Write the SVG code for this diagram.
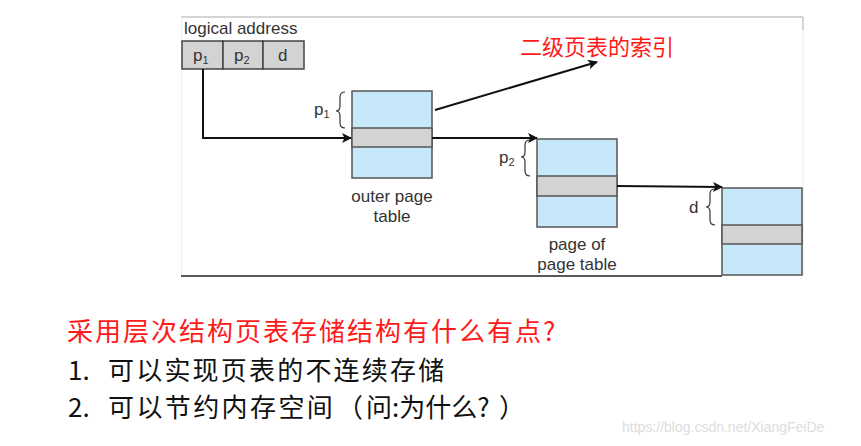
<svg xmlns="http://www.w3.org/2000/svg" width="861" height="446" viewBox="0 0 861 446">
<defs>
<style>
.lbl{font-family:"Liberation Sans",Arial,sans-serif;font-size:17px;fill:#333}
.sub{font-size:11px}
.tbl{fill:#c6e8f9;stroke:#555;stroke-width:1.5}
.band{fill:#d3d3d3;stroke:#555;stroke-width:1.5}
.conn{fill:none;stroke:#111;stroke-width:2}
.brace{fill:none;stroke:#333;stroke-width:1.2}
.cjk{font-family:"Noto Sans CJK SC","Noto Sans",sans-serif}
</style>
<marker id="ah2" viewBox="0 0 10 10" refX="9" refY="5" markerWidth="13" markerHeight="10" orient="auto" markerUnits="userSpaceOnUse">
<path d="M0,0 L10,5 L0,10 L2.5,5 z" fill="#111"/>
</marker>
</defs>
<rect width="861" height="446" fill="#fff"/>
<g id="frame">
<polyline points="181,17 803,17 803,30" fill="none" stroke="#aaa" stroke-width="1"/>
<line x1="803" y1="30" x2="803" y2="276" stroke="#eee" stroke-width="1"/>
<line x1="181.5" y1="17" x2="181.5" y2="276" stroke="#eee" stroke-width="1"/>
<line x1="181" y1="276" x2="722" y2="276" stroke="#222" stroke-width="1.5"/>
</g>
<g id="logical-address">
<text class="lbl" x="184" y="34">logical address</text>
<rect x="182" y="41" width="41" height="28" fill="#d3d3d3" stroke="#444" stroke-width="1.5"/>
<rect x="223" y="41" width="40" height="28" fill="#d3d3d3" stroke="#444" stroke-width="1.5"/>
<rect x="263" y="41" width="41" height="28" fill="#d3d3d3" stroke="#444" stroke-width="1.5"/>
<text class="lbl" x="193" y="61">p<tspan class="sub" dy="3">1</tspan></text>
<text class="lbl" x="234" y="61">p<tspan class="sub" dy="3">2</tspan></text>
<text class="lbl" x="278" y="61">d</text>
</g>
<g id="outer-page-table">
<rect class="tbl" x="352" y="91" width="80" height="87"/>
<rect class="band" x="352" y="128" width="80" height="19"/>
<path class="brace" d="M345,92 Q340,92 340,97 L340,106 Q340,111 336,111 Q340,111 340,116 L340,123 Q340,128 345,128"/>
<text class="lbl" x="314" y="115">p<tspan class="sub" dy="3">1</tspan></text>
<text class="lbl" x="392" y="202" text-anchor="middle">outer page</text>
<text class="lbl" x="392" y="222" text-anchor="middle">table</text>
</g>
<g id="page-of-page-table">
<rect class="tbl" x="537" y="139" width="80" height="88"/>
<rect class="band" x="537" y="176" width="80" height="20"/>
<path class="brace" d="M530,140 Q525,140 525,145 L525,152 Q525,157 521,157 Q525,157 525,162 L525,171 Q525,176 530,176"/>
<text class="lbl" x="499" y="163">p<tspan class="sub" dy="3">2</tspan></text>
<text class="lbl" x="577" y="250" text-anchor="middle">page of</text>
<text class="lbl" x="577" y="270" text-anchor="middle">page table</text>
</g>
<g id="page">
<rect class="tbl" x="722" y="188" width="80" height="87"/>
<rect class="band" x="722" y="225" width="80" height="19"/>
<path class="brace" d="M715,189 Q710,189 710,194 L710,202 Q710,207 706,207 Q710,207 710,212 L710,220 Q710,225 715,225"/>
<text class="lbl" x="689" y="213">d</text>
</g>
<g id="connectors">
<polyline class="conn" points="203,69 203,138 351,138" marker-end="url(#ah2)"/>
<line class="conn" x1="432" y1="138" x2="537" y2="138" marker-end="url(#ah2)"/>
<line class="conn" x1="617" y1="186" x2="722" y2="187" marker-end="url(#ah2)"/>
<line class="conn" x1="435" y1="110" x2="597" y2="62" marker-end="url(#ah2)"/>
</g>
<g id="index-label">
<text class="cjk" x="520" y="55" font-size="22" fill="#ff1a1a">二级页表的索引</text>
</g>
<g id="notes" class="cjk" font-size="26">
<text x="67" y="341" fill="#ff1a1a" letter-spacing="2">采用层次结构页表存储结构有什么有点?</text>
<text y="380" fill="#111"><tspan x="68">1.</tspan><tspan x="108" letter-spacing="2.2">可以实现页表的不连续存储</tspan></text>
<text y="417" fill="#111"><tspan x="68">2.</tspan><tspan x="108" letter-spacing="2.4">可以节约内存空间</tspan><tspan x="337">（</tspan><tspan x="366">问:为什么?</tspan><tspan x="499">）</tspan></text>
</g>
<text x="622" y="432" font-family="Liberation Sans,Arial,sans-serif" font-size="14" fill="#ddd">https://blog.csdn.net/XiangFeiDe</text>
</svg>
